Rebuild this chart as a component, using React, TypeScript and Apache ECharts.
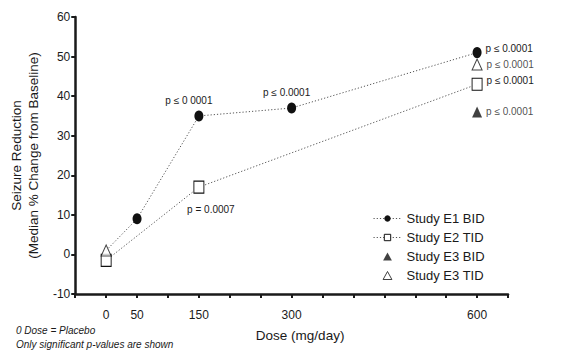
import React, { useEffect, useRef } from 'react';
import * as echarts from 'echarts';

// ---- data ----
const doseTickLabels = [0, 50, 150, 300, 600];
const e1Doses = [0, 50, 150, 300, 600];
const e1Values = [1, 9, 35, 37, 51];
const e1PValues = ['', '', 'p ≤ 0 0001', 'p ≤ 0.0001', 'p ≤ 0.0001'];
const e2Doses = [0, 150, 600];
const e2Values = [-1.5, 17, 43];
const e2PValues = ['', 'p = 0.0007', 'p ≤ 0.0001'];
const e3BidDoses = [600];
const e3BidValues = [36];
const e3BidPValues = ['p ≤ 0.0001'];
const e3TidDoses = [0, 600];
const e3TidValues = [1, 48];
const e3TidPValues = ['', 'p ≤ 0.0001'];
const seriesNames = ['Study E1 BID', 'Study E2 TID', 'Study E3 BID', 'Study E3 TID'];

const FONT = '"Liberation Sans", Arial, Helvetica, sans-serif';
const INK = '#1a1a1a';
const TRI_ICON = 'path://M0,10L5.5,0L11,10Z';

// label placement (style, not data)
function labelFor(text: string, dose: number, seriesIdx: number) {
  if (!text) return { show: false };
  const base = { show: true, formatter: text, fontSize: 10, fontFamily: FONT, color: INK };
  if (dose === 600) return { ...base, position: 'right', distance: 4, offset: [0, seriesIdx === 0 || seriesIdx === 1 ? -4 : 0] };
  if (seriesIdx === 1) return { ...base, position: 'bottom', distance: 11, offset: [12, 0] };
  if (dose === 150) return { ...base, position: 'top', distance: 5, offset: [-10, 0] };
  return { ...base, position: 'top', distance: 5, offset: [-5, 0] };
}

function build(doses: number[], values: number[], pv: string[], idx: number, hideZero = false) {
  return doses.map((d, i) => {
    const item: any = { value: [d, values[i]], label: labelFor(pv[i], d, idx) };
    if (hideZero && d === 0) item.symbol = 'none';
    return item;
  });
}

export default function App() {
  const ref = useRef<HTMLDivElement>(null);
  useEffect(() => {
    if (!ref.current) return;
    const chart = echarts.init(ref.current, undefined, { renderer: 'svg' });
    const dotted = { color: '#555', width: 1, type: [1.2, 2] as any };
    chart.setOption({
      animation: false,
      backgroundColor: '#fff',
      textStyle: { fontFamily: FONT },
      grid: { left: 67, right: 66, top: 17, bottom: 59, containLabel: false },
      legend: {
        orient: 'vertical',
        left: 368,
        top: 206,
        itemWidth: 28,
        itemHeight: 8,
        itemGap: 4,
        data: [
          { name: seriesNames[0] },
          { name: seriesNames[1] },
          { name: seriesNames[2], icon: TRI_ICON },
          { name: seriesNames[3], icon: TRI_ICON },
        ],
        textStyle: { fontSize: 13, color: INK, fontFamily: FONT, lineHeight: 15 },
        itemStyle: { borderWidth: 1 },
        lineStyle: { width: 1 },
        selectedMode: false,
      },
      xAxis: {
        type: 'value',
        min: -50,
        max: 650,
        interval: 50,
        splitLine: { show: false },
        axisLine: { onZero: false, lineStyle: { color: INK, width: 2.5 } },
        axisTick: { length: 4, lineStyle: { color: INK, width: 2 } },
        axisLabel: {
          interval: 0,
          margin: 15,
          fontSize: 12,
          color: INK,
          fontFamily: FONT,
          formatter: (v: number) => (doseTickLabels.includes(v) ? String(v) : ''),
        },
        name: 'Dose (mg/day)',
        nameLocation: 'middle',
        nameGap: 34,
        nameTextStyle: { fontSize: 13.5, color: INK, fontFamily: FONT, padding: [0, 0, 0, 17] },
      },
      yAxis: {
        type: 'value',
        min: -10,
        max: 60,
        interval: 10,
        splitLine: { show: false },
        axisLine: { onZero: false, lineStyle: { color: INK, width: 2.5 } },
        axisTick: { length: 4, lineStyle: { color: INK, width: 2 } },
        axisLabel: { margin: 5, fontSize: 12, color: INK, fontFamily: FONT },
        name: 'Seizure Reduction\n(Median % Change from Baseline)',
        nameLocation: 'middle',
        nameGap: 24,
        nameTextStyle: { fontSize: 13.5, color: INK, fontFamily: FONT, lineHeight: 17 },
      },
      series: [
        {
          name: seriesNames[0],
          type: 'line',
          symbol: 'circle',
          symbolSize: [9, 11],
          itemStyle: { color: '#111' },
          lineStyle: dotted,
          data: build(e1Doses, e1Values, e1PValues, 0, true),
          z: 2,
        },
        {
          name: seriesNames[1],
          type: 'line',
          symbol: 'rect',
          symbolSize: [10, 12],
          itemStyle: { color: '#fff', borderColor: '#111', borderWidth: 1 },
          lineStyle: dotted,
          data: build(e2Doses, e2Values, e2PValues, 1),
          z: 3,
        },
        {
          name: seriesNames[2],
          type: 'scatter',
          symbol: 'triangle',
          symbolSize: [10, 11],
          itemStyle: { color: '#111' },
          data: build(e3BidDoses, e3BidValues, e3BidPValues, 2),
          z: 4,
        },
        {
          name: seriesNames[3],
          type: 'scatter',
          symbol: 'triangle',
          symbolSize: [10, 11],
          itemStyle: { color: '#fff', borderColor: '#111', borderWidth: 1 },
          data: build(e3TidDoses, e3TidValues, e3TidPValues, 3),
          z: 5,
        },
      ],
      graphic: [
        {
          type: 'text',
          left: 16,
          top: 325,
          style: { text: '0 Dose = Placebo', font: `italic 10px ${FONT}`, fill: INK },
        },
        {
          type: 'text',
          left: 16,
          top: 339,
          style: { text: 'Only significant p-values are shown', font: `italic 10px ${FONT}`, fill: INK },
        },
      ],
    });
    return () => chart.dispose();
  }, []);
  return <div ref={ref} style={{ width: 574, height: 353, position: 'absolute', left: 0, top: 0 }} />;
}
